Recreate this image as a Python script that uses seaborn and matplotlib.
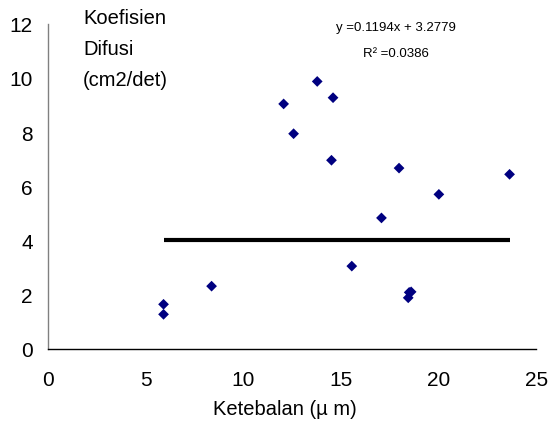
import matplotlib
matplotlib.use("Agg")
import matplotlib.pyplot as plt
import pandas as pd
import seaborn as sns

# data
ketebalan = [5.92, 5.92, 8.38, 12.07, 12.58, 13.79, 14.52, 14.60, 15.56,
             17.08, 17.98, 18.45, 18.50, 18.60, 20.02, 23.64]
difusi = [1.64, 1.27, 2.31, 9.04, 7.94, 9.87, 6.96, 9.27, 3.05,
          4.83, 6.67, 1.88, 2.08, 2.10, 5.70, 6.44]
line_y = 4.0
xticks = [0, 5, 10, 15, 20, 25]
yticks = [0, 2, 4, 6, 8, 10, 12]
eq_text = "y =0.1194x + 3.2779"
r2_text = "R² =0.0386"

df = pd.DataFrame({'x': ketebalan, 'y': difusi})

sns.set_style('white')
plt.rcParams['font.family'] = ['Liberation Sans', 'DejaVu Sans']
plt.rcParams['text.color'] = 'black'
plt.rcParams['axes.labelcolor'] = 'black'

fig = plt.figure(figsize=(5.51, 4.27), dpi=100)
ax = fig.add_axes([0.087, 0.181, 0.886, 0.761])

sns.scatterplot(data=df, x='x', y='y', marker='D', s=30, color='#000080',
                edgecolor='none', ax=ax, zorder=3)
ax.hlines(line_y, min(ketebalan), max(ketebalan), color='black', lw=3)

ax.set_xlim(0, 25)
ax.set_ylim(0, 12)
ax.set_xticks(xticks)
ax.set_yticks(yticks)
ax.tick_params(axis='both', direction='out', length=4, width=1, color='black',
               labelsize=15, labelcolor='black')
ax.tick_params(axis='x', pad=11)
ax.tick_params(axis='y', pad=7)
ax.set_xlabel('Ketebalan (µ m)', fontsize=14.5)
ax.xaxis.set_label_coords(0.485, -0.155)
ax.set_ylabel('')

for s in ['top', 'right']:
    ax.spines[s].set_visible(False)
ax.spines['left'].set_color('#808080')
ax.spines['bottom'].set_color('black')
ax.spines['left'].set_linewidth(1)
ax.spines['bottom'].set_linewidth(1)

ax.text(0.072, 1.05, 'Koefisien\nDifusi\n(cm2/det)', transform=ax.transAxes,
        fontsize=14.5, va='top', ha='left', linespacing=1.8)
ax.text(0.713, 0.99, eq_text, transform=ax.transAxes, fontsize=9.5,
        ha='center', va='center')
ax.text(0.713, 0.91, r2_text, transform=ax.transAxes, fontsize=9.5,
        ha='center', va='center')

fig.savefig('out.png', dpi=100)
